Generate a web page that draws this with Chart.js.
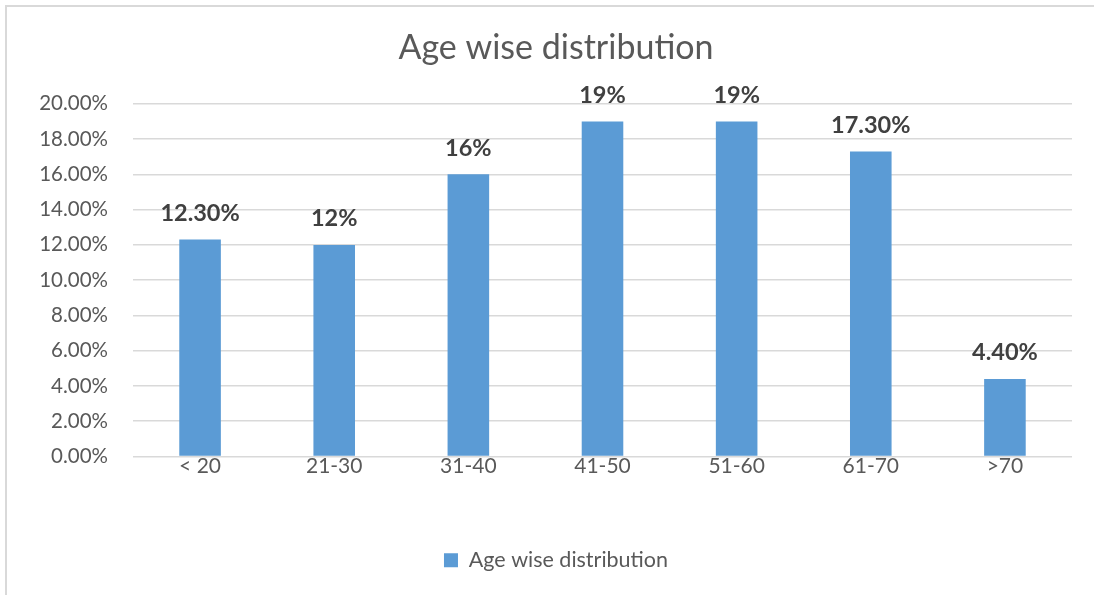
<!DOCTYPE html>
<html>
<head>
<meta charset="utf-8">
<script src="https://cdn.jsdelivr.net/npm/chart.js@4.4.1/dist/chart.umd.min.js"></script>
<style>
  html, body { margin: 0; padding: 0; background: #ffffff; overflow: hidden; }
  #frame {
    position: absolute; left: 5px; top: 5px; width: 1200px; height: 700px;
    border: 2px solid #d9d9d9; box-sizing: border-box;
  }
  #wrap { position: absolute; left: 0; top: 0; width: 1094px; height: 595px; }
</style>
</head>
<body>
<div id="frame"></div>
<div id="wrap"><canvas id="c" width="1094" height="595"></canvas></div>
<script>
// Age groups and share of respondents (%)
const categories = ['< 20', '21-30', '31-40', '41-50', '51-60', '61-70', '>70'];
const shares = [12.3, 12, 16, 19, 19, 17.3, 4.4];
const shareLabels = ['12.30%', '12%', '16%', '19%', '19%', '17.30%', '4.40%'];
const yTicks = [0, 2, 4, 6, 8, 10, 12, 14, 16, 18, 20];

const FONT = 'Lato, "Open Sans", sans-serif';
const TEXT = '#595959';

// Writes the value label above each bar
const barLabels = {
  id: 'barLabels',
  afterDatasetsDraw(chart) {
    const ctx = chart.ctx;
    const meta = chart.getDatasetMeta(0);
    ctx.save();
    ctx.font = 'bold 23.5px ' + FONT;
    ctx.fillStyle = '#404040';
    ctx.textAlign = 'center';
    ctx.textBaseline = 'middle';
    meta.data.forEach((bar, i) => {
      ctx.fillText(shareLabels[i], bar.x, bar.y - 26);
    });
    ctx.restore();
  }
};

new Chart(document.getElementById('c'), {
  type: 'bar',
  data: {
    labels: categories,
    datasets: [{
      label: 'Age wise distribution',
      data: shares,
      backgroundColor: '#5B9BD5',
      borderWidth: 0,
      categoryPercentage: 1,
      barPercentage: 0.31
    }]
  },
  options: {
    responsive: false,
    animation: false,
    layout: { padding: { left: 40, right: 22, top: 0, bottom: 14 } },
    plugins: {
      title: {
        display: true,
        text: 'Age wise distribution',
        color: TEXT,
        font: { family: FONT, size: 34, weight: 'normal' },
        padding: { top: 28, bottom: 35 }
      },
      legend: {
        display: true,
        position: 'bottom',
        labels: {
          color: TEXT,
          font: { family: FONT, size: 21.5 },
          boxWidth: 14,
          boxHeight: 14,
          padding: 10
        }
      },
      tooltip: { enabled: false }
    },
    scales: {
      x: {
        grid: { display: false, drawTicks: false },
        border: { display: false },
        ticks: { color: TEXT, font: { family: FONT, size: 21 }, padding: -3 },
        afterFit(s) { s.height = 83; }
      },
      y: {
        min: 0,
        max: 20,
        afterBuildTicks(s) { s.ticks = yTicks.map(v => ({ value: v })); },
        grid: { color: '#d9d9d9', lineWidth: 1.5, drawTicks: false },
        border: { display: false },
        ticks: {
          color: TEXT,
          font: { family: FONT, size: 20.5 },
          padding: 25,
          callback: v => v.toFixed(2) + '%'
        },
        afterFit(s) { s.width = 93; }
      }
    }
  },
  plugins: [barLabels]
});
</script>
</body>
</html>
